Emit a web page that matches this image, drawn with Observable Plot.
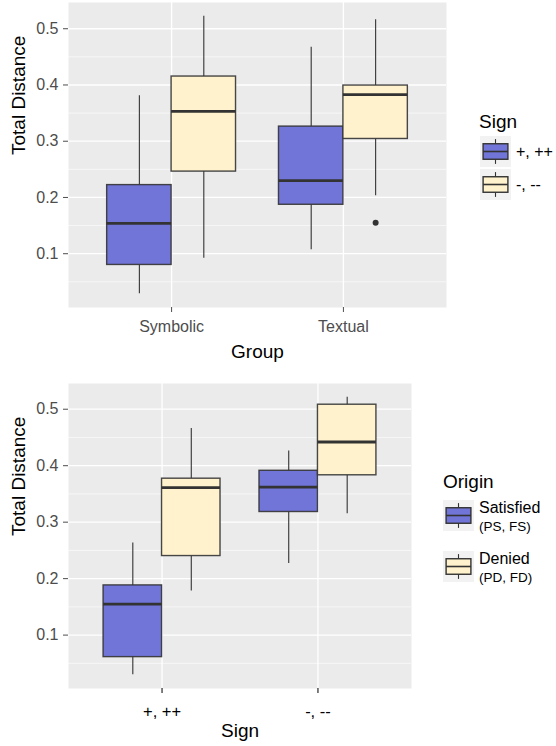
<!DOCTYPE html>
<html>
<head>
<meta charset="utf-8">
<script src="https://cdn.jsdelivr.net/npm/d3@7"></script>
<script src="https://cdn.jsdelivr.net/npm/@observablehq/plot@0.6"></script>
<style>
  body { margin: 0; background: #fff; }
  #root { position: relative; width: 556px; height: 746px; font-family: 'Liberation Sans', Arial, sans-serif; }
  #top, #bot, #leg { position: absolute; left: 0; }
  #top { top: 0; }
  #bot { top: 370px; }
  #leg { top: 0; }
</style>
</head>
<body>
<div id="root">
  <div id="top"></div>
  <div id="bot"></div>
  <svg id="leg" width="556" height="746"></svg>
</div>
<script>
// ---------- data ----------
const groups = ["Symbolic", "Textual"];
const signs = ["+, ++", "-, --"];
const origins = ["Satisfied", "Denied"];
const originSub = ["(PS, FS)", "(PD, FD)"];
const fillColors = ["#7175D8", "#FFF2CC"];

// top panel: Total Distance by Group, dodged by Sign
const topGroup = ["Symbolic", "Symbolic", "Textual", "Textual"];
const topSign  = ["+, ++", "-, --", "+, ++", "-, --"];
const topLow   = [0.029, 0.092, 0.107, 0.203];
const topQ1    = [0.080, 0.246, 0.187, 0.304];
const topMed   = [0.154, 0.353, 0.230, 0.383];
const topQ3    = [0.222, 0.415, 0.326, 0.399];
const topHigh  = [0.381, 0.522, 0.467, 0.516];
const topOutGroup = ["Textual"];
const topOutSign  = ["-, --"];
const topOutValue = [0.155];

// bottom panel: Total Distance by Sign, dodged by Origin
const botSign   = ["+, ++", "+, ++", "-, --", "-, --"];
const botOrigin = ["Satisfied", "Denied", "Satisfied", "Denied"];
const botLow    = [0.030, 0.178, 0.227, 0.315];
const botQ1     = [0.061, 0.240, 0.318, 0.383];
const botMed    = [0.155, 0.361, 0.362, 0.442];
const botQ3     = [0.188, 0.377, 0.391, 0.508];
const botHigh   = [0.263, 0.466, 0.426, 0.521];

const yTicks = [0.1, 0.2, 0.3, 0.4, 0.5];
const yMinor = [0.05, 0.15, 0.25, 0.35, 0.45, 0.55];

// ---------- helpers ----------
const dodgeWidth = 0.75;
const FONT = "'Liberation Sans', Arial, sans-serif";

function buildRows(cats, dodges, catDomain, dodgeDomain, low, q1, med, q3, high) {
  const w = dodgeWidth / dodgeDomain.length;
  return cats.map((c, i) => {
    const ci = catDomain.indexOf(c) + 1;
    const di = dodgeDomain.indexOf(dodges[i]);
    const xc = ci - dodgeWidth / 2 + w * (di + 0.5);
    return {key: dodges[i], xc, x1: xc - w / 2, x2: xc + w / 2,
            low: low[i], q1: q1[i], med: med[i], q3: q3[i], high: high[i]};
  });
}
function buildOut(cats, dodges, catDomain, dodgeDomain, vals) {
  const w = dodgeWidth / dodgeDomain.length;
  return cats.map((c, i) => {
    const ci = catDomain.indexOf(c) + 1;
    const di = dodgeDomain.indexOf(dodges[i]);
    return {xc: ci - dodgeWidth / 2 + w * (di + 0.5), v: vals[i]};
  });
}

function panel(o) {
  const lo = d3.min([...o.rows.map(d => d.low), ...o.out.map(d => d.v)]);
  const hi = d3.max([...o.rows.map(d => d.high), ...o.out.map(d => d.v)]);
  const pad = (hi - lo) * 0.05;
  const domain = [lo - pad, hi + pad];
  const inDom = v => v >= domain[0] && v <= domain[1];
  return Plot.plot({
    width: 556, height: o.height,
    marginLeft: 68, marginRight: o.marginRight, marginTop: o.marginTop, marginBottom: o.marginBottom,
    style: {fontFamily: FONT, background: "transparent", overflow: "visible"},
    x: {domain: [0.4, 2.6], label: null},
    y: {domain, label: null},
    color: {domain: o.dodgeDomain, range: fillColors},
    marks: [
      Plot.frame({fill: "#EBEBEB", stroke: null}),
      Plot.ruleY(yMinor.filter(inDom), {stroke: "#fff", strokeWidth: 0.6}),
      Plot.ruleY(yTicks, {stroke: "#fff", strokeWidth: 1.3}),
      Plot.ruleX([1, 2], {stroke: "#fff", strokeWidth: 1.3}),
      Plot.ruleX(o.rows, {x: "xc", y1: "low", y2: "q1", stroke: "#333", strokeWidth: 1.1}),
      Plot.ruleX(o.rows, {x: "xc", y1: "q3", y2: "high", stroke: "#333", strokeWidth: 1.1}),
      Plot.rect(o.rows, {x1: "x1", x2: "x2", y1: "q1", y2: "q3", fill: "key", stroke: "#333", strokeOpacity: 0.9, strokeWidth: 1.4}),
      Plot.ruleY(o.rows, {x1: "x1", x2: "x2", y: "med", stroke: "#333", strokeWidth: 2.8}),
      Plot.dot(o.out, {x: "xc", y: "v", r: 3, fill: "#333", stroke: null}),
      Plot.axisY({ticks: yTicks, tickFormat: ".1f", tickSize: 5, tickPadding: 5, fontSize: 16, color: "#4D4D4D", label: null}),
      Plot.axisX({ticks: [1, 2], tickFormat: i => o.catLabels[i - 1], tickSize: 5, tickPadding: o.xPad,
                  fontSize: o.xFont, color: o.xColor, label: null}),
      Plot.text([o.yTitle], {frameAnchor: "left", dx: -50, rotate: -90, fontSize: 19, fill: "#000"}),
      Plot.text([o.xTitle], {frameAnchor: "bottom", dy: o.xTitleDy, fontSize: 19, fill: "#000"})
    ]
  });
}

const topRows = buildRows(topGroup, topSign, groups, signs, topLow, topQ1, topMed, topQ3, topHigh);
const topOut = buildOut(topOutGroup, topOutSign, groups, signs, topOutValue);
const botRows = buildRows(botSign, botOrigin, signs, origins, botLow, botQ1, botMed, botQ3, botHigh);

document.getElementById("top").append(panel({
  rows: topRows, out: topOut, dodgeDomain: signs, catLabels: groups,
  height: 370, marginTop: 2, marginBottom: 63, marginRight: 110,
  xFont: 16, xColor: "#4D4D4D", xPad: 8,
  yTitle: "Total Distance", xTitle: "Group", xTitleDy: 50
}));
document.getElementById("bot").append(panel({
  rows: botRows, out: [], dodgeDomain: origins, catLabels: signs,
  height: 376, marginTop: 13, marginBottom: 58, marginRight: 145,
  xFont: 16.5, xColor: "#000", xPad: 12,
  yTitle: "Total Distance", xTitle: "Sign", xTitleDy: 48
}));

// ---------- legends ----------
const leg = d3.select("#leg").attr("font-family", FONT);
function key(g, x, y, fill) {
  const s = 31;
  const k = g.append("g").attr("transform", `translate(${x},${y})`);
  k.append("rect").attr("width", s).attr("height", s).attr("fill", "#F2F2F2");
  k.append("line").attr("x1", s / 2).attr("x2", s / 2).attr("y1", s * 0.1).attr("y2", s * 0.9)
    .attr("stroke", "#333").attr("stroke-width", 1.1);
  k.append("rect").attr("x", s * 0.1).attr("y", s * 0.25).attr("width", s * 0.8).attr("height", s * 0.5)
    .attr("fill", fill).attr("stroke", "#333").attr("stroke-width", 1.4);
  k.append("line").attr("x1", s * 0.1).attr("x2", s * 0.9).attr("y1", s / 2).attr("y2", s / 2)
    .attr("stroke", "#333").attr("stroke-width", 1.6);
}
// top legend: Sign
leg.append("text").attr("x", 479).attr("y", 128).attr("font-size", 19).text("Sign");
signs.forEach((s, i) => {
  const y = 136 + i * 33;
  key(leg, 480, y, fillColors[i]);
  leg.append("text").attr("x", 516).attr("y", y + 15.5).attr("dy", "0.35em").attr("font-size", 16).text(s);
});
// bottom legend: Origin
leg.append("text").attr("x", 443).attr("y", 488).attr("font-size", 19).text("Origin");
origins.forEach((s, i) => {
  const y = 500 + i * 51;
  key(leg, 443, y, fillColors[i]);
  leg.append("text").attr("x", 479).attr("y", y + 13).attr("font-size", 16).text(s);
  leg.append("text").attr("x", 479).attr("y", y + 30.5).attr("font-size", 13.5).text(originSub[i]);
});
</script>
</body>
</html>
